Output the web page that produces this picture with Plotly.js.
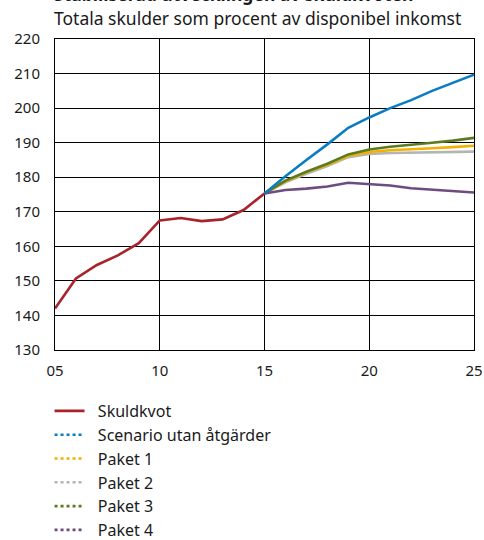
<!DOCTYPE html>
<html>
<head>
<meta charset="utf-8">
<script src="https://cdn.plot.ly/plotly-3.0.1.min.js"></script>
<style>
  html, body { margin: 0; padding: 0; background: #fff; }
  #chart { width: 484px; height: 540px; }
</style>
</head>
<body>
<div id="chart"></div>
<script>
// Household debt ratio, history 2005-2015 and projections to 2025
const histYears = [2005, 2006, 2007, 2008, 2009, 2010, 2011, 2012, 2013, 2014, 2015];
const skuldkvot = [142.0, 150.7, 154.6, 157.4, 160.9, 167.5, 168.2, 167.3, 167.8, 170.5, 175.3];

const projYears = [2015, 2016, 2017, 2018, 2019, 2020, 2021, 2022, 2023, 2024, 2025];
const utanAtgarder = [175.3, 180.3, 185.0, 189.5, 194.3, 197.3, 200.0, 202.3, 205.0, 207.3, 209.7];
const paket1 = [175.3, 178.8, 181.4, 183.6, 186.2, 187.3, 187.8, 188.0, 188.4, 188.7, 189.1];
const paket2 = [175.3, 178.5, 181.0, 183.2, 185.8, 186.7, 187.0, 187.1, 187.2, 187.2, 187.4];
const paket3 = [175.3, 179.0, 181.6, 183.9, 186.6, 188.0, 188.8, 189.3, 190.0, 190.6, 191.4];
const paket4 = [175.3, 176.3, 176.7, 177.3, 178.4, 178.1, 177.6, 176.8, 176.4, 175.8, 175.6];

const xTickVals = [2005, 2010, 2015, 2020, 2025];
const xTickText = ['05', '10', '15', '20', '25'];

const series = [
  {name: 'Skuldkvot', x: histYears, y: skuldkvot, color: '#a8232b', legendDash: 'solid'},
  {name: 'Scenario utan åtgärder', x: projYears, y: utanAtgarder, color: '#0a7dc2', legendDash: 'dot'},
  {name: 'Paket 1', x: projYears, y: paket1, color: '#f2b000', legendDash: 'dot'},
  {name: 'Paket 2', x: projYears, y: paket2, color: '#b4b4b4', legendDash: 'dot'},
  {name: 'Paket 3', x: projYears, y: paket3, color: '#5b7b1f', legendDash: 'dot'},
  {name: 'Paket 4', x: projYears, y: paket4, color: '#6e4b80', legendDash: 'dot'}
];

// Plotted lines (drawn from the back so the history and blue sit on top)
const drawOrder = [3, 2, 4, 5, 1, 0];
const traces = drawOrder.map(i => ({
  type: 'scatter', mode: 'lines',
  x: series[i].x, y: series[i].y,
  line: {color: series[i].color, width: 2.6},
  name: series[i].name, legendgroup: series[i].name,
  showlegend: false, hoverinfo: 'skip'
}));

// Legend entries (dotted samples for the scenarios)
series.forEach((s, i) => {
  traces.push({
    type: 'scatter', mode: 'lines',
    x: [null], y: [null],
    line: {color: s.color, width: 2.6, dash: s.legendDash},
    name: '\u00a0\u00a0' + s.name, legendgroup: s.name, legendrank: i + 1,
    showlegend: true, hoverinfo: 'skip'
  });
});

const font = {family: '"Noto Sans", "Open Sans", sans-serif', color: '#1a1a1a'};

const layout = {
  width: 484, height: 540,
  margin: {l: 55, r: 10, t: 39, b: 190, autoexpand: false},
  paper_bgcolor: '#fff', plot_bgcolor: '#fff',
  font: Object.assign({size: 15}, font),
  showlegend: true,
  legend: {
    x: -0.013, y: -0.1415, xanchor: 'left', yanchor: 'top',
    traceorder: 'normal', itemwidth: 30,
    tracegroupgap: 0,
    font: Object.assign({size: 16}, font),
    bgcolor: 'rgba(0,0,0,0)'
  },
  xaxis: {
    range: [2005, 2025], tickvals: xTickVals, ticktext: xTickText,
    showgrid: true, gridcolor: '#000', gridwidth: 1,
    showline: true, linecolor: '#000', linewidth: 1, mirror: true,
    ticks: '', zeroline: false, fixedrange: true, ticklabelstandoff: 7,
    automargin: false,
    tickfont: Object.assign({size: 15}, font)
  },
  yaxis: {
    range: [130, 220], dtick: 10, tick0: 130,
    showgrid: true, gridcolor: '#000', gridwidth: 1,
    showline: true, linecolor: '#000', linewidth: 1, mirror: true,
    ticks: '', zeroline: false, fixedrange: true, ticklabelstandoff: 11,
    automargin: false,
    tickfont: Object.assign({size: 15}, font)
  },
  annotations: [
    {text: '<b>Stabiliserad utvecklingen av skuldkvoten</b>',
     xref: 'paper', yref: 'paper', x: -0.007, y: 1.0, yshift: 31,
     xanchor: 'left', yanchor: 'bottom', showarrow: false,
     font: Object.assign({size: 17.5}, font)},
    {text: 'Totala skulder som procent av disponibel inkomst',
     xref: 'paper', yref: 'paper', x: -0.007, y: 1.0, yshift: 7,
     xanchor: 'left', yanchor: 'bottom', showarrow: false,
     font: Object.assign({size: 17.5}, font)}
  ]
};

Plotly.newPlot('chart', traces, layout, {displayModeBar: false, staticPlot: true});
</script>
</body>
</html>
